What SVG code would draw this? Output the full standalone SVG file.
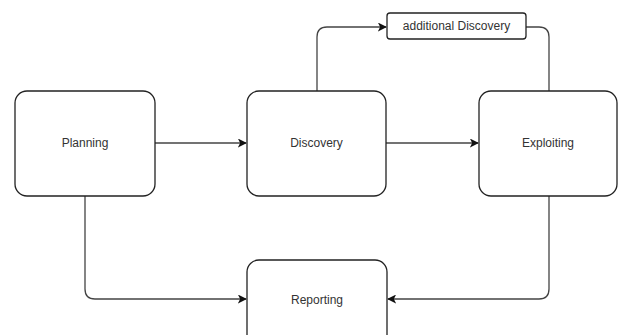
<svg xmlns="http://www.w3.org/2000/svg" width="618" height="335" viewBox="0 0 618 335">
<style>
.box{fill:#fff;stroke:#222;stroke-width:1.3}
.lbl{font-family:"Liberation Sans",Arial,sans-serif;font-size:12px;fill:#333;text-anchor:middle;dominant-baseline:central}
.c{fill:none;stroke:#444;stroke-width:1.3}
</style>
<defs>
<marker id="ah" viewBox="0 0 10 10" refX="9" refY="5" markerWidth="9" markerHeight="9" markerUnits="userSpaceOnUse" orient="auto">
<path d="M0,0 L10,5 L0,10 L2.5,5 Z" fill="#111"/>
</marker>
</defs>
<rect width="618" height="335" fill="#fff"/>
<g id="connectors">
<path class="c" d="M155,143 H246" marker-end="url(#ah)"/>
<path class="c" d="M386,143 H478" marker-end="url(#ah)"/>
<path class="c" d="M317,91 V37 Q317,27 327,27 H386" marker-end="url(#ah)"/>
<path class="c" d="M526,27 H539 Q549,27 549,37 V91"/>
<path class="c" d="M85,196 V289 Q85,299 95,299 H246" marker-end="url(#ah)"/>
<path class="c" d="M549,196 V289 Q549,299 539,299 H388" marker-end="url(#ah)"/>
</g>
<g id="planning">
<rect class="box" x="15" y="91" width="140" height="105" rx="12"/>
<text class="lbl" x="85" y="143">Planning</text>
</g>
<g id="discovery">
<rect class="box" x="247" y="91" width="139" height="105" rx="12"/>
<text class="lbl" x="316.5" y="143">Discovery</text>
</g>
<g id="exploiting">
<rect class="box" x="479" y="91" width="138" height="105" rx="12"/>
<text class="lbl" x="548" y="143">Exploiting</text>
</g>
<g id="additional">
<rect class="box" x="387" y="13" width="139" height="26" rx="3"/>
<text class="lbl" x="456.5" y="26">additional Discovery</text>
</g>
<g id="reporting">
<rect class="box" x="247" y="260" width="140" height="90" rx="12"/>
<text class="lbl" x="317" y="300">Reporting</text>
</g>
</svg>
